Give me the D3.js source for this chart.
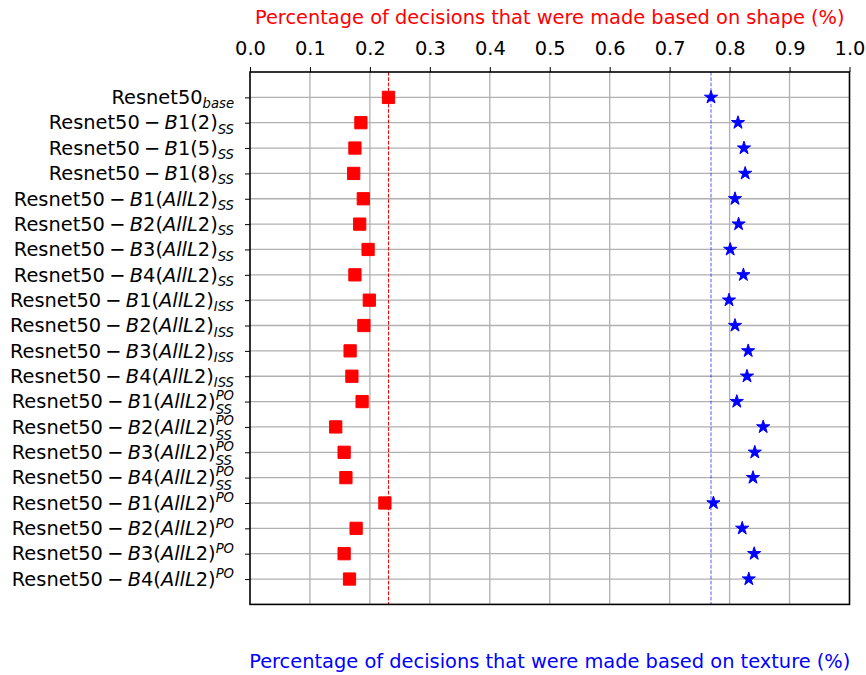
<!DOCTYPE html>
<html>
<head>
<meta charset="utf-8">
<script src="https://cdn.jsdelivr.net/npm/d3@7"></script>
<style>
  html, body { margin: 0; padding: 0; background: #fff; }
  svg { display: block; font-family: "DejaVu Sans", sans-serif; }
</style>
</head>
<body>
<svg id="chart" width="866" height="675"></svg>
<script>
// Model variants: block part, subscript and superscript of each label
const blocks = ["", "B1(2)", "B1(5)", "B1(8)",
  "B1(AllL2)", "B2(AllL2)", "B3(AllL2)", "B4(AllL2)",
  "B1(AllL2)", "B2(AllL2)", "B3(AllL2)", "B4(AllL2)",
  "B1(AllL2)", "B2(AllL2)", "B3(AllL2)", "B4(AllL2)",
  "B1(AllL2)", "B2(AllL2)", "B3(AllL2)", "B4(AllL2)"];
const subs = ["base", "SS", "SS", "SS",
  "SS", "SS", "SS", "SS",
  "ISS", "ISS", "ISS", "ISS",
  "SS", "SS", "SS", "SS",
  "", "", "", ""];
const sups = ["", "", "", "",
  "", "", "", "",
  "", "", "", "",
  "PO", "PO", "PO", "PO",
  "PO", "PO", "PO", "PO"];

// Fraction of decisions based on shape / texture
const shapeValues = [0.231, 0.185, 0.175, 0.173, 0.189, 0.183, 0.197, 0.175, 0.199, 0.190,
  0.167, 0.170, 0.187, 0.143, 0.157, 0.160, 0.225, 0.177, 0.157, 0.166];
const textureValues = [0.769, 0.814, 0.824, 0.826, 0.809, 0.815, 0.801, 0.823, 0.799, 0.809,
  0.831, 0.829, 0.812, 0.856, 0.842, 0.839, 0.773, 0.821, 0.841, 0.832];

// Reference lines at the base model
const shapeRef = shapeValues[0];
const textureRef = textureValues[0];

const xTicks = [0, 0.1, 0.2, 0.3, 0.4, 0.5, 0.6, 0.7, 0.8, 0.9, 1.0];

const svg = d3.select("#chart");
const plotL = 250, plotR = 849.5, plotT = 72, plotB = 604.4;
const fs = 19.4;

const x = d3.scaleLinear().domain([0, 1]).range([plotL, plotR]);
const y = d3.scaleLinear().domain([-1, blocks.length]).range([plotT, plotB]);
const idx = d3.range(blocks.length);

// grid
const grid = svg.append("g").attr("stroke", "#b0b0b0").attr("stroke-width", 1.3);
grid.selectAll("line.v").data(xTicks.slice(1, -1)).join("line").attr("class", "v")
  .attr("x1", d => x(d)).attr("x2", d => x(d)).attr("y1", plotT).attr("y2", plotB);
grid.selectAll("line.h").data(idx).join("line").attr("class", "h")
  .attr("x1", plotL).attr("x2", plotR).attr("y1", d => y(d)).attr("y2", d => y(d));

// base reference lines
svg.append("line").attr("x1", x(shapeRef)).attr("x2", x(shapeRef))
  .attr("y1", plotT).attr("y2", plotB)
  .attr("stroke", "red").attr("stroke-width", 1).attr("stroke-dasharray", "3.7,1.6");
svg.append("line").attr("x1", x(textureRef)).attr("x2", x(textureRef))
  .attr("y1", plotT).attr("y2", plotB)
  .attr("stroke", "blue").attr("stroke-opacity", 0.65).attr("stroke-width", 1).attr("stroke-dasharray", "3.7,1.6");

// markers
svg.append("g").selectAll("path").data(idx).join("path")
  .attr("transform", i => `translate(${x(shapeValues[i])},${y(i)})`)
  .attr("d", d3.symbol(d3.symbolSquare, 150))
  .attr("fill", "red").attr("stroke", "red").attr("stroke-width", 1);
svg.append("g").selectAll("path").data(idx).join("path")
  .attr("transform", i => `translate(${x(textureValues[i])},${y(i)})`)
  .attr("d", d3.symbol(d3.symbolStar, 54))
  .attr("fill", "blue").attr("stroke", "blue").attr("stroke-width", 1);

// top axis
const topAxis = d3.axisTop(x).tickValues(xTicks).tickFormat(d3.format(".1f"))
  .tickSize(5).tickPadding(12);
const gTop = svg.append("g").attr("transform", `translate(0,${plotT})`).call(topAxis);
gTop.select(".domain").remove();
gTop.selectAll("text").attr("font-size", fs).attr("font-family", "DejaVu Sans").attr("fill", "#000");
gTop.selectAll("line").attr("stroke", "#000").attr("stroke-width", 1);

// left axis ticks (labels drawn separately)
const leftAxis = d3.axisLeft(y).tickValues(idx).tickFormat("").tickSize(5);
const gLeft = svg.append("g").attr("transform", `translate(${plotL},0)`).call(leftAxis);
gLeft.select(".domain").remove();
gLeft.selectAll("line").attr("stroke", "#000").attr("stroke-width", 1);

// row labels: "Resnet50" + " − " + block (letters italic, digits upright) + scripts
const labelEnd = 234;
idx.forEach(i => {
  const g = svg.append("g");
  let cx = 0;
  const put = (txt, size, dy, italic) => {
    const t = g.append("text").attr("x", cx).attr("y", dy)
      .attr("font-size", size).attr("font-style", italic ? "italic" : "normal")
      .attr("fill", "#000").text(txt);
    return t.node().getComputedTextLength();
  };
  cx += put("Resnet50", fs, 0, false);
  if (blocks[i]) {
    cx += fs * 0.22;
    cx += put("\u2212", fs, 0, false);
    cx += fs * 0.22;
    const runs = blocks[i].match(/[A-Za-z]+|[^A-Za-z]+/g);
    runs.forEach(r => { cx += put(r, fs, 0, /[A-Za-z]/.test(r)); });
  }
  const ss = fs * 0.68;
  if (sups[i] && subs[i]) {
    const start = cx;
    const wSup = put(sups[i], ss, -fs * 0.43, true);
    cx = start;
    const wSub = put(subs[i], ss, fs * 0.31, true);
    cx = start + Math.max(wSup, wSub);
  } else if (sups[i]) {
    cx += put(sups[i], ss, -fs * 0.38, true);
  } else if (subs[i]) {
    cx += put(subs[i], ss, fs * 0.22, true);
  }
  g.attr("transform", `translate(${labelEnd - cx},${y(i) + fs * 0.35})`);
});

// frame
svg.append("rect").attr("x", plotL).attr("y", plotT)
  .attr("width", plotR - plotL).attr("height", plotB - plotT)
  .attr("fill", "none").attr("stroke", "#000").attr("stroke-width", 1.6);

// axis titles
svg.append("text").attr("x", (plotL + plotR) / 2).attr("y", 24)
  .attr("text-anchor", "middle").attr("font-size", fs).attr("fill", "red")
  .text("Percentage of decisions that were made based on shape (%)");
svg.append("text").attr("x", (plotL + plotR) / 2).attr("y", 668)
  .attr("text-anchor", "middle").attr("font-size", fs).attr("fill", "blue")
  .text("Percentage of decisions that were made based on texture (%)");
</script>
</body>
</html>
